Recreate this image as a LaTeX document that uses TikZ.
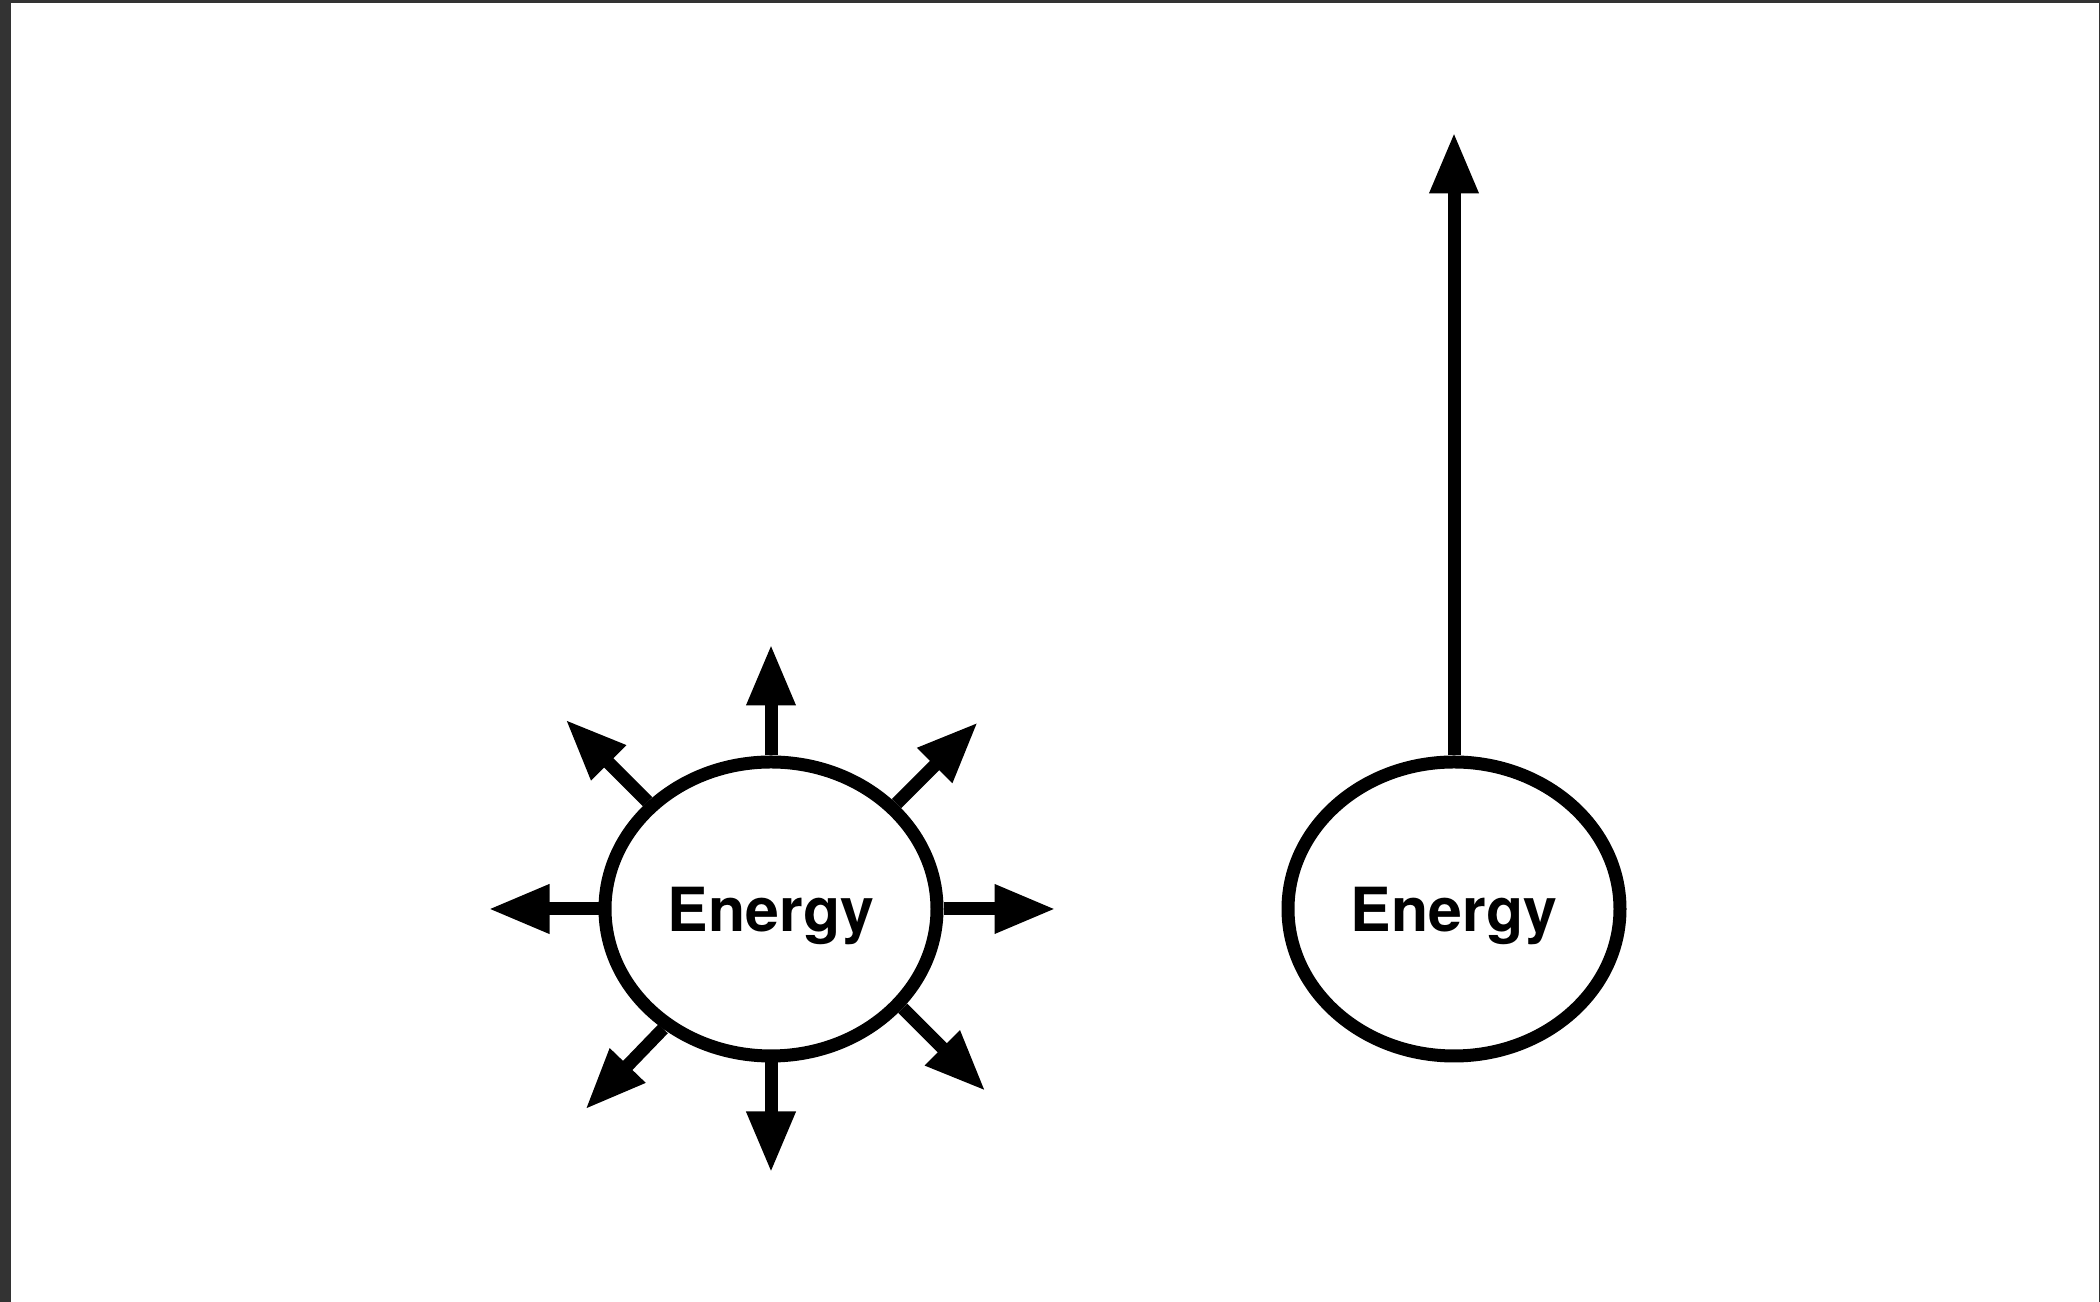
\documentclass[tikz,border=0pt]{standalone}
\usepackage{fontspec}
\setsansfont{TeX Gyre Heros}
\usepackage{xcolor}
\usepackage{tikz}
\usetikzlibrary{arrows.meta, positioning, shapes.geometric}

\definecolor{framegray}{RGB}{51,51,51}

\begin{document}
\begin{tikzpicture}[
    >={Triangle[length=0.61cm, width=0.46cm]},
    energy/.style={draw, ellipse, line width=0.13cm, minimum width=3.32cm, minimum height=2.94cm,
                   inner sep=0pt, text depth=0pt, font=\sffamily\bfseries\fontsize{17.3}{20}\selectfont},
    arr/.style={->, line width=0.13cm},
]

% === Frame ===
\fill[framegray] (0,0) rectangle (21,13.02);
\fill[white] (0.11,0) rectangle (20.99,12.99);
\useasboundingbox (0,0) rectangle (21,13.02);

% === Left: energy spreading out ===
\node[energy] (lft) at (7.71,3.93) {Energy};

\coordinate[above=1.11cm of lft.north] (ln);
\coordinate[below=1.10cm of lft.south] (ls);
\coordinate[left=1.10cm of lft.west] (lw);
\coordinate[right=1.12cm of lft.east] (le);
\coordinate (lne) at ([shift={(45:1.15)}]lft.40);
\coordinate (lnw) at ([shift={(135:1.16)}]lft.139);
\coordinate (lsw) at ([shift={(226:1.12)}]lft.228);
\coordinate (lse) at ([shift={(-45:1.17)}]lft.323);

\draw[arr] (lft.north) -- (ln);
\draw[arr] (lft.south) -- (ls);
\draw[arr] (lft.west) -- (lw);
\draw[arr] (lft.east) -- (le);
\draw[arr] (lft.40) -- (lne);
\draw[arr] (lft.139) -- (lnw);
\draw[arr] (lft.228) -- (lsw);
\draw[arr] (lft.323) -- (lse);

% === Right: energy in one direction ===
\node[energy, right=3.38cm of lft] (rgt) {Energy};
\coordinate[above=6.23cm of rgt.north] (rn);
\draw[arr] (rgt.north) -- (rn);

\end{tikzpicture}
\end{document}
